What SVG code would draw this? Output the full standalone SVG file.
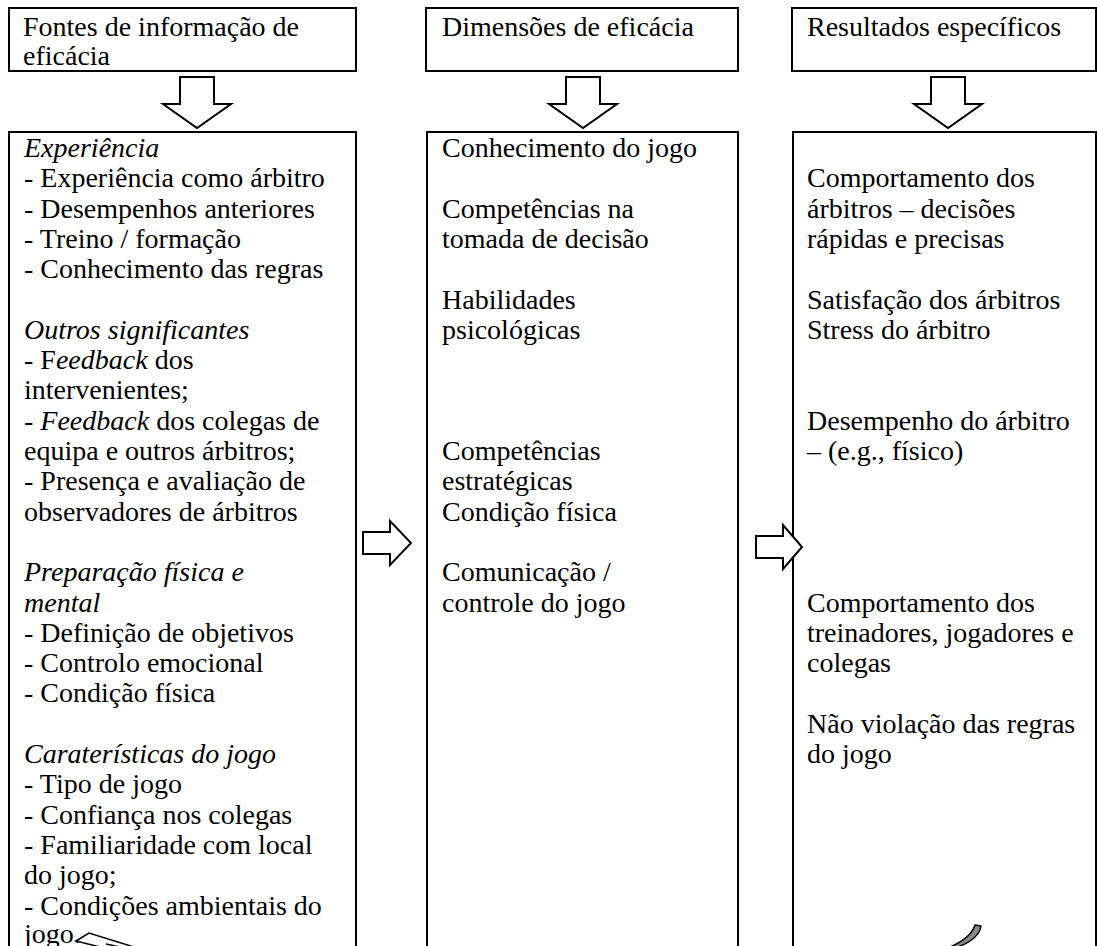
<svg xmlns="http://www.w3.org/2000/svg" width="1097" height="946" viewBox="0 0 1097 946">
<style>
.box{fill:#fff;stroke:#000;stroke-width:2}
.arrow{fill:#fff;stroke:#000;stroke-width:2;stroke-linejoin:miter}
text{font-family:"Liberation Serif","Times New Roman",serif;font-size:28px;fill:#000}
.i{font-style:italic}
</style>
<rect width="1097" height="946" fill="#fff"/>

<g id="header1">
<rect class="box" x="9" y="8" width="347" height="63"/>
<text><tspan x="23" y="36">Fontes de informação de</tspan><tspan x="23" y="65">eficácia</tspan></text>
</g>
<g id="header2">
<rect class="box" x="426" y="8" width="312" height="63"/>
<text><tspan x="442" y="36">Dimensões de eficácia</tspan></text>
</g>
<g id="header3">
<rect class="box" x="792" y="8" width="304" height="63"/>
<text><tspan x="807" y="36">Resultados específicos</tspan></text>
</g>

<g id="fontes">
<rect class="box" x="9" y="132" width="347" height="840"/>
<text>
<tspan x="24" y="157" class="i">Experiência</tspan>
<tspan x="24" y="187.3">- Experiência como árbitro</tspan>
<tspan x="24" y="217.6">- Desempenhos anteriores</tspan>
<tspan x="24" y="247.9">- Treino / formação</tspan>
<tspan x="24" y="278.2">- Conhecimento das regras</tspan>
<tspan x="24" y="338.8" class="i">Outros significantes</tspan>
<tspan x="24" y="369.1">- F<tspan class="i">eedback</tspan> dos</tspan>
<tspan x="24" y="399.4">intervenientes;</tspan>
<tspan x="24" y="429.7">- <tspan class="i">Feedback</tspan> dos colegas de</tspan>
<tspan x="24" y="460">equipa e outros árbitros;</tspan>
<tspan x="24" y="490.3">- Presença e avaliação de</tspan>
<tspan x="24" y="520.6">observadores de árbitros</tspan>
<tspan x="24" y="581.2" class="i">Preparação física e</tspan>
<tspan x="24" y="611.5" class="i">mental</tspan>
<tspan x="24" y="641.8">- Definição de objetivos</tspan>
<tspan x="24" y="672.1">- Controlo emocional</tspan>
<tspan x="24" y="702.4">- Condição física</tspan>
<tspan x="24" y="763" class="i">Caraterísticas do jogo</tspan>
<tspan x="24" y="793.3">- Tipo de jogo</tspan>
<tspan x="24" y="823.6">- Confiança nos colegas</tspan>
<tspan x="24" y="853.9">- Familiaridade com local</tspan>
<tspan x="24" y="884.2">do jogo;</tspan>
<tspan x="24" y="914.5">- Condições ambientais do</tspan>
<tspan x="24" y="943">jogo.</tspan>
</text>
</g>

<g id="dimensoes">
<rect class="box" x="427" y="132" width="311" height="840"/>
<text>
<tspan x="442" y="157">Conhecimento do jogo</tspan>
<tspan x="442" y="217.6">Competências na</tspan>
<tspan x="442" y="247.9">tomada de decisão</tspan>
<tspan x="442" y="308.5">Habilidades</tspan>
<tspan x="442" y="338.8">psicológicas</tspan>
<tspan x="442" y="460">Competências</tspan>
<tspan x="442" y="490.3">estratégicas</tspan>
<tspan x="442" y="520.6">Condição física</tspan>
<tspan x="442" y="581.2">Comunicação /</tspan>
<tspan x="442" y="611.5">controle do jogo</tspan>
</text>
</g>

<g id="resultados">
<rect class="box" x="793" y="132" width="303" height="840"/>
<text>
<tspan x="807" y="187.3">Comportamento dos</tspan>
<tspan x="807" y="217.6">árbitros – decisões</tspan>
<tspan x="807" y="247.9">rápidas e precisas</tspan>
<tspan x="807" y="308.5">Satisfação dos árbitros</tspan>
<tspan x="807" y="338.8">Stress do árbitro</tspan>
<tspan x="807" y="429.7">Desempenho do árbitro</tspan>
<tspan x="807" y="460">– (e.g., físico)</tspan>
<tspan x="807" y="611.5">Comportamento dos</tspan>
<tspan x="807" y="641.8">treinadores, jogadores e</tspan>
<tspan x="807" y="672.1">colegas</tspan>
<tspan x="807" y="732.7">Não violação das regras</tspan>
<tspan x="807" y="763">do jogo</tspan>
</text>
</g>

<g id="connectors">
<path class="arrow" d="M180 77 H214 V104 H231 L197 128 L163 104 H180 Z"/>
<path class="arrow" d="M566 77 H600 V104 H617 L583 128 L549 104 H566 Z"/>
<path class="arrow" d="M931 77 H965 V104 H982 L948 128 L914 104 H931 Z"/>
<path class="arrow" d="M363 532 H390 V521 L411 543 L390 565 V554 H363 Z"/>
<path class="arrow" d="M756 536 H783 V525 L802 547 L783 569 V558 H756 Z"/>
</g>

<g id="fragments">
<polygon points="76,941 89,933 134,947 100,947" fill="#fff" stroke="#000" stroke-width="1.5"/>
<line x1="106" y1="944" x2="120" y2="947" stroke="#000" stroke-width="1.5"/>
<path d="M975 925 L981 926 Q979 939 958 947 L950 947 Q971 938 975 925 Z" fill="#888" stroke="#000" stroke-width="1.5"/>
</g>
</svg>
